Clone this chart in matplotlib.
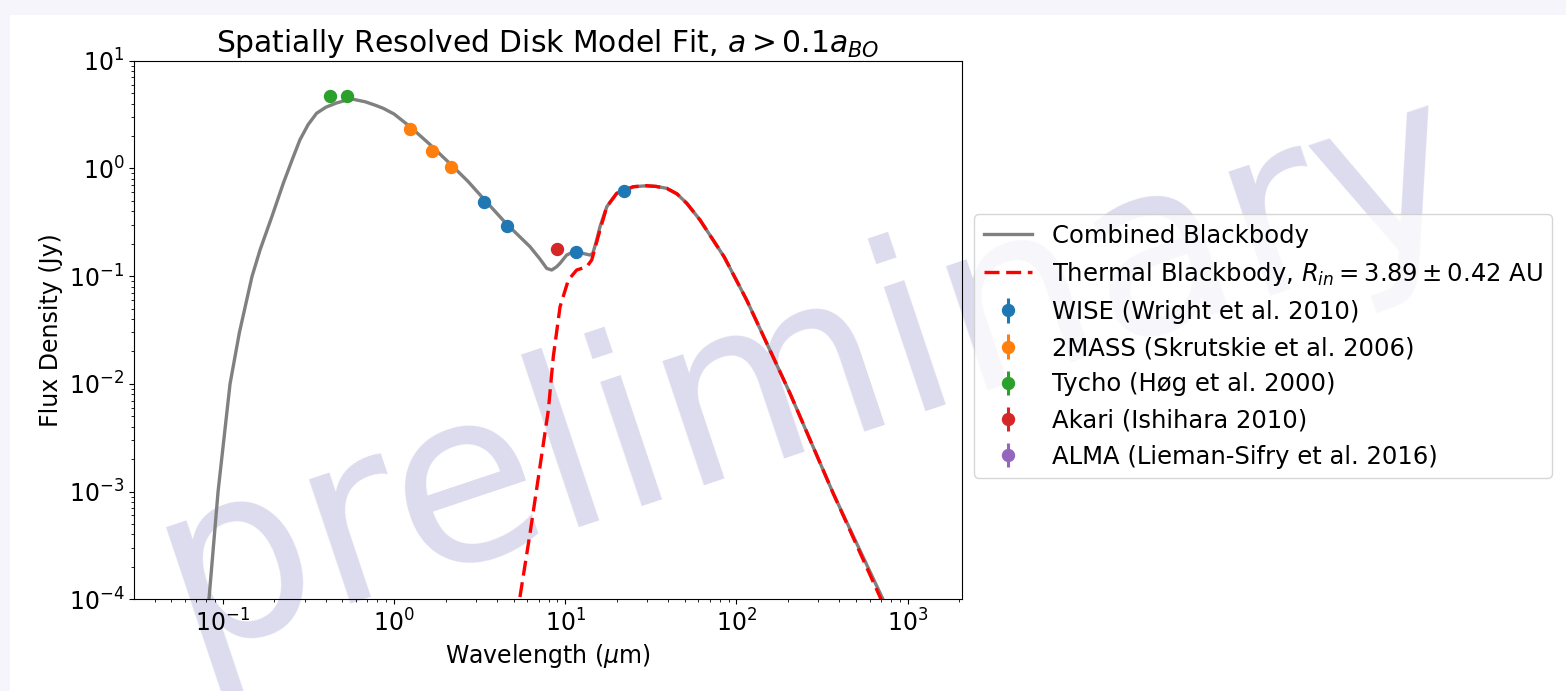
import matplotlib
matplotlib.use("Agg")
import matplotlib.pyplot as plt
from matplotlib.patches import Rectangle
import numpy as np

# SED model curves (wavelength in micron, flux in Jy)
combined_wl = [0.083, 0.0938, 0.1102, 0.125, 0.148, 0.165, 0.195, 0.2256, 0.255,
               0.282, 0.315, 0.353, 0.40, 0.462, 0.52, 0.578, 0.68, 0.78, 0.866,
               1.0, 1.24, 1.6, 2.12, 2.7, 3.32, 4.5, 6.23, 7.1, 7.80, 8.34, 8.9,
               9.33, 10.2, 11.0, 11.67, 12.8, 13.95, 14.5, 15.2, 15.97, 17.5,
               20.0, 25.0, 29.9, 34.0, 39.2, 45.0, 51.3, 61.3, 85.0, 114.8,
               205.6, 368.0, 718.0]
combined_flux = [1.0e-4, 1.0e-3, 1.0e-2, 0.03, 0.099, 0.175, 0.37, 0.728, 1.22,
                 1.84, 2.55, 3.25, 3.7, 4.05, 4.28, 4.38, 4.15, 3.85, 3.61,
                 3.2, 2.44, 1.7, 1.11, 0.76, 0.527, 0.31, 0.1875, 0.145, 0.118,
                 0.114, 0.122, 0.1316, 0.157, 0.166, 0.1686, 0.162, 0.157, 0.163,
                 0.21, 0.288, 0.441, 0.587, 0.676, 0.69, 0.68, 0.653, 0.58, 0.474,
                 0.332, 0.15, 0.060, 0.00817, 0.00096, 1.0e-4]

thermal_wl = [5.44, 6.23, 7.12, 7.97, 8.52, 9.33, 10.43, 11.67, 13.35, 14.28,
              15.97, 17.5, 20.0, 25.0, 29.9, 34.0, 39.2, 45.0, 51.3, 61.3, 85.0,
              114.8, 205.6, 368.0, 700.0]
thermal_flux = [1.05e-4, 4.09e-4, 1.7e-3, 5.7e-3, 0.01786, 0.052, 0.092, 0.114,
                0.122, 0.141, 0.268, 0.441, 0.587, 0.676, 0.69, 0.68, 0.653,
                0.58, 0.474, 0.332, 0.15, 0.060, 0.00817, 0.00096, 1.0e-4]

# photometry
wise_wl = [3.35, 4.6, 11.6, 22.0]
wise_flux = [0.491, 0.294, 0.166, 0.621]
tmass_wl = [1.235, 1.662, 2.159]
tmass_flux = [2.31, 1.45, 1.04]
tycho_wl = [0.42, 0.53]
tycho_flux = [4.65, 4.65]
akari_wl = [9.0]
akari_flux = [0.179]
alma_wl = []
alma_flux = []

fig = plt.figure(figsize=(15.66, 6.91), dpi=100, facecolor="#f5f5fb")
# white page with a thin tinted margin on the top and left
fig.add_artist(Rectangle((10 / 1566, 0), 1, 1 - 15 / 691, facecolor="white",
                         edgecolor="none", transform=fig.transFigure, zorder=-2))
ax = fig.add_axes([0.0856, 0.1327, 0.5285, 0.7795])
ax.patch.set_alpha(0)

fig.text(0.517, 0.46, "preliminary", fontsize=172, color="#dcdcee",
         rotation=18.5, ha="center", va="center", rotation_mode="anchor",
         zorder=-1)

ax.plot(combined_wl, combined_flux, color="gray", lw=2.4, label="Combined Blackbody")
ax.plot(thermal_wl, thermal_flux, color="r", lw=2.4, ls=(0, (4.5, 2)),
        label=r"Thermal Blackbody, $R_{in} = 3.89 \pm 0.42$ AU")

def phot(wl, fl, c, lab):
    err = [0.03 * f for f in fl]
    ax.errorbar(wl, fl, yerr=err, fmt="o", color=c, ms=8.6, elinewidth=2.2,
                label=lab)

phot(wise_wl, wise_flux, "C0", "WISE (Wright et al. 2010)")
phot(tmass_wl, tmass_flux, "C1", "2MASS (Skrutskie et al. 2006)")
phot(tycho_wl, tycho_flux, "C2", "Tycho (Høg et al. 2000)")
phot(akari_wl, akari_flux, "C3", "Akari (Ishihara 2010)")
phot(alma_wl, alma_flux, "C4", "ALMA (Lieman-Sifry et al. 2016)")

ax.set_xscale("log")
ax.set_yscale("log")
ax.set_xlim(0.0303, 2070)
ax.set_ylim(1e-4, 10)
ax.tick_params(labelsize=17)
ax.set_xlabel(r"Wavelength ($\mu$m)", fontsize=17)
ax.set_ylabel("Flux Density (Jy)", fontsize=17)
ax.set_title(r"Spatially Resolved Disk Model Fit, $a > 0.1a_{BO}$", fontsize=21.4)

ax.legend(loc="center left", bbox_to_anchor=(1.0, 0.47), fontsize=17.5,
          labelspacing=0.5)

fig.savefig("out.png", dpi=100, facecolor=fig.get_facecolor())
